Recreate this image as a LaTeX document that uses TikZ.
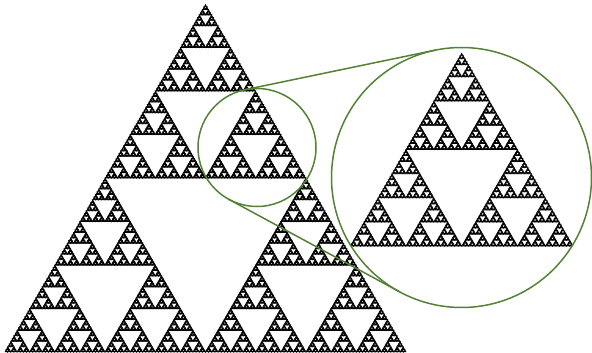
\documentclass[tikz,border=0pt]{standalone}
\definecolor{spygreen}{RGB}{84,130,53}
\tikzset{
  hole/.style={fill=white, draw=black, line width=0.8pt, line join=miter},
  finehole/.style={hole, line width=0.7pt},
  solid/.style={fill=black},
  lens/.style={draw=spygreen, line width=1.5pt},
  link/.style={draw=spygreen, line width=1.5pt},
}
% #1 apex x, #2 apex y, #3 side, #4 depth, #5 hole style   (y grows downward)
\newcommand\sierpHoles[5]{%
  \ifnum#4>0
  \begingroup
    \pgfmathsetmacro\sq{#3/4}%
    \pgfmathsetmacro\sh{#3/2}%
    \pgfmathsetmacro\hh{#3*0.4330127}%
    \pgfmathsetmacro\xl{#1-\sq}%
    \pgfmathsetmacro\xr{#1+\sq}%
    \pgfmathsetmacro\ym{#2+\hh}%
    \pgfmathsetmacro\yb{#2+2*\hh}%
    \filldraw[#5] (\xl,\ym) -- (\xr,\ym) -- (#1,\yb) -- cycle;
    \edef\sierpNext{%
      \noexpand\sierpHoles{#1}{#2}{\sh}{\the\numexpr#4-1\relax}{#5}%
      \noexpand\sierpHoles{\xl}{\ym}{\sh}{\the\numexpr#4-1\relax}{#5}%
      \noexpand\sierpHoles{\xr}{\ym}{\sh}{\the\numexpr#4-1\relax}{#5}}%
    \sierpNext
  \endgroup
  \fi}
\newcommand\sierp[5]{%
  \begingroup
  \pgfmathsetmacro\hgt{#3*0.8660254}%
  \pgfmathsetmacro\bl{#1-#3/2}%
  \pgfmathsetmacro\br{#1+#3/2}%
  \pgfmathsetmacro\by{#2+\hgt}%
  \fill[solid] (#1,#2) -- (\br,\by) -- (\bl,\by) -- cycle;
  \endgroup
  \sierpHoles{#1}{#2}{#3}{#4}{#5}}
\begin{document}
\begin{tikzpicture}[x=1pt,y=-1pt]
\useasboundingbox (0,0) rectangle (592,353);
% main triangle
\sierp{205.5}{4}{402}{7}{hole}
% magnified view
\coordinate (cbig) at (461.5,177.5);
\coordinate (csmall) at (257,147.5);
\begin{scope}
  \clip (cbig) circle (130);
  \fill[white] (cbig) circle (130);
  \sierp{461.7}{52.7}{223.5}{6}{finehole}
\end{scope}
\draw[lens] (csmall) circle (59);
\draw[lens] (cbig) circle (130);
% tangent connectors
\coordinate (ta) at (245.0,89.7);
\coordinate (tb) at (435.0,50.2);
\coordinate (ba) at (228.9,199.4);
\coordinate (bb) at (399.6,291.8);
\draw[link] (ta) -- (tb);
\draw[link] (ba) -- (bb);
\end{tikzpicture}
\end{document}
